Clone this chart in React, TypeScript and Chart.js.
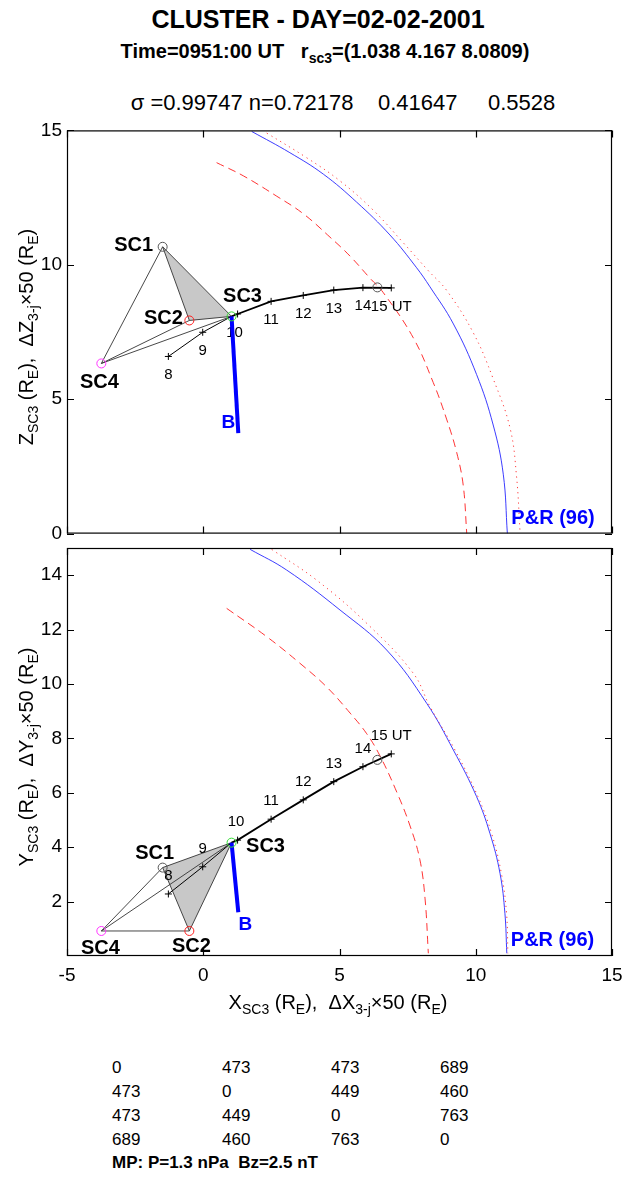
import { useEffect, useRef } from "react";
import type { ReactNode } from "react";
import Chart from "chart.js/auto";

const FONT = '"Liberation Sans", Arial, Helvetica, sans-serif';
Chart.defaults.font.family = FONT;

// spacecraft positions (R_E): SC3 absolute, others SC3 + delta*50
const scNames = ["SC1", "SC2", "SC3", "SC4"];
const scX = [-1.49, -0.51, 1.038, -3.74];
const scY = [3.25, 0.92, 4.167, 0.92];
const scZ = [10.67, 7.93, 8.081, 6.33];
const scColors = ["#555555", "#ff2020", "#33dd33", "#ff33ff"];

// SC3 orbit, hourly marks
const orbitHours = ["8", "9", "10", "11", "12", "13", "14", "15 UT"];
const orbitX = [-1.28, -0.02, 1.26, 2.49, 3.67, 4.79, 5.86, 6.9];
const orbitY = [2.28, 3.28, 4.26, 5.03, 5.74, 6.41, 6.96, 7.43];
const orbitZ = [6.59, 7.49, 8.17, 8.64, 8.86, 9.06, 9.15, 9.14];

// B direction (end of the blue bar)
const bEnd = { x: 1.286, y: 1.61, z: 3.74 };
// model magnetopause crossing on the orbit
const mpCross = { x: 6.39, y: 7.21, z: 9.16 };

// tetrahedron
const edges = [[0, 1], [0, 2], [0, 3], [1, 2], [1, 3], [2, 3]];
const face = [0, 1, 2];

// magnetopause curves, X-Z plane
const mpDashedXZ = [[0.49, 13.8], [1.47, 13.31], [2.7, 12.55], [3.67, 11.9], [4.65, 11.03], [5.39, 10.32], [6.12, 9.5], [6.61, 8.96], [7.71, 7.28], [8.44, 5.62], [8.93, 4.26], [9.3, 3.02], [9.54, 1.8], [9.67, 0]];
const mpSolidXZ = [[1.78, 14.96], [3.18, 14.17], [4.41, 13.37], [5.63, 12.33], [6.85, 11.11], [7.83, 9.89], [8.32, 9.18], [9.18, 7.8], [10.03, 5.92], [10.64, 4.04], [11.01, 2.21], [11.16, 0]];
const mpDottedXZ = [[2.33, 14.9], [3.8, 13.98], [5.02, 13.12], [6.24, 12.03], [7.34, 10.82], [8.26, 9.78], [8.93, 9.05], [9.91, 7.47], [10.64, 5.76], [11.26, 3.92], [11.5, 2.09], [11.62, 0.15]];
// magnetopause curves, X-Y plane
const mpDashedXY = [[0.86, 12.78], [2.33, 11.74], [3.55, 10.76], [4.53, 9.89], [5.39, 8.93], [6.0, 8.17], [6.49, 7.35], [7.1, 6.03], [7.59, 4.78], [7.95, 3.54], [8.14, 2.1], [8.26, 0.1]];
const mpSolidXY = [[1.72, 14.95], [3.06, 14.19], [5.02, 12.72], [6.73, 11.25], [8.2, 9.29], [9.18, 7.57], [10.03, 5.86], [10.52, 4.51], [10.89, 3.04], [11.07, 1.57], [11.14, 0.1]];
const mpDottedXY = [[2.51, 14.95], [4.16, 13.82], [6.0, 12.23], [7.71, 10.39], [8.32, 9.17], [9.24, 7.57], [10.08, 5.86], [10.58, 4.51], [10.94, 3.04], [11.13, 1.57], [11.18, 0.1]];

const xTicks = [-5, 0, 5, 10, 15];
const zTicks = [0, 5, 10, 15];
const yTicks = [2, 4, 6, 8, 10, 12, 14];

// inter-spacecraft distances (km)
const distances = [
  [0, 473, 473, 689],
  [473, 0, 449, 460],
  [473, 449, 0, 763],
  [689, 460, 763, 0],
];

type Pt = { x: number; y: number };
type Panel = {
  scV: number[];
  orbitV: number[];
  bV: number;
  crossV: number;
  dashed: number[][];
  solid: number[][];
  dotted: number[][];
  yMin: number;
  yMax: number;
  yTickVals: number[];
  showX: boolean;
  hourDy: number;
  tenDx: number;
  scOff: number[][];
  bOff: number[];
  prOff: number[];
};

const topPanel: Panel = {
  scV: scZ, orbitV: orbitZ, bV: bEnd.z, crossV: mpCross.z,
  dashed: mpDashedXZ, solid: mpSolidXZ, dotted: mpDottedXZ,
  yMin: 0, yMax: 15, yTickVals: zTicks, showX: false,
  hourDy: 18.5, tenDx: -3,
  scOff: [[-29, -1], [-26, -2], [11, -20], [-2, 19]],
  bOff: [-10, -10],
  prOff: [4, -15],
};

const bottomPanel: Panel = {
  scV: scY, orbitV: orbitY, bV: bEnd.y, crossV: mpCross.y,
  dashed: mpDashedXY, solid: mpSolidXY, dotted: mpDottedXY,
  yMin: 0, yMax: 15, yTickVals: yTicks, showX: true,
  hourDy: -18, tenDx: -1.5,
  scOff: [[-8, -14], [2, 16], [34, 4], [-1, 18]],
  bOff: [7, 13],
  prOff: [4, -13],
};

const toPts = (arr: number[][]): Pt[] => arr.map(([x, y]) => ({ x, y }));

function makePlugin(p: Panel) {
  return {
    id: "matlabPanel",
    beforeDatasetDraw(chart: any, args: any) {
      // hour labels go under the B bar and the spacecraft circles
      if (args.index !== 1) return;
      const { ctx, scales } = chart;
      ctx.save();
      ctx.font = `15px ${FONT}`;
      ctx.fillStyle = "#000";
      ctx.textAlign = "center";
      ctx.textBaseline = "middle";
      orbitHours.forEach((h, i) => {
        const dx = i === 2 ? p.tenDx : 0;
        ctx.fillText(h, scales.x.getPixelForValue(orbitX[i]) + dx, scales.y.getPixelForValue(p.orbitV[i]) + p.hourDy);
      });
      ctx.restore();
    },
    afterDatasetsDraw(chart: any) {
      const { ctx, chartArea: a, scales } = chart;
      const sx = scales.x;
      const sy = scales.y;
      ctx.save();
      // box + inward ticks on all four sides
      ctx.strokeStyle = "#000";
      ctx.lineWidth = 1.2;
      ctx.strokeRect(a.left + 0.5, a.top + 0.5, a.right - a.left - 1, a.bottom - a.top - 1);
      const tl = 7;
      ctx.beginPath();
      xTicks.forEach((v) => {
        const px = Math.round(sx.getPixelForValue(v)) + 0.5;
        ctx.moveTo(px, a.bottom);
        ctx.lineTo(px, a.bottom - tl);
        ctx.moveTo(px, a.top);
        ctx.lineTo(px, a.top + tl);
      });
      p.yTickVals.forEach((v) => {
        const py = Math.round(sy.getPixelForValue(v)) + 0.5;
        ctx.moveTo(a.left, py);
        ctx.lineTo(a.left + tl, py);
        ctx.moveTo(a.right, py);
        ctx.lineTo(a.right - tl, py);
      });
      ctx.stroke();

      // spacecraft names
      ctx.font = `bold 20px ${FONT}`;
      ctx.fillStyle = "#000";
      ctx.textAlign = "center";
      ctx.textBaseline = "middle";
      scNames.forEach((n, i) => {
        ctx.fillText(n, sx.getPixelForValue(scX[i]) + p.scOff[i][0], sy.getPixelForValue(p.scV[i]) + p.scOff[i][1]);
      });
      // B label
      ctx.fillStyle = "#0000ff";
      ctx.font = `bold 19px ${FONT}`;
      ctx.fillText("B", sx.getPixelForValue(bEnd.x) + p.bOff[0], sy.getPixelForValue(p.bV) + p.bOff[1]);
      // model label
      const last = p.solid[p.solid.length - 1];
      ctx.textAlign = "left";
      ctx.font = `bold 20px ${FONT}`;
      ctx.fillText("P&R (96)", sx.getPixelForValue(last[0]) + p.prOff[0], sy.getPixelForValue(last[1]) + p.prOff[1]);
      ctx.restore();
    },
  };
}

function buildConfig(p: Panel, pad: { top: number; bottom: number }): any {
  const scPts = scX.map((x, i) => ({ x, y: p.scV[i] }));
  const orbitPts = orbitX.map((x, i) => ({ x, y: p.orbitV[i] }));
  const sc3 = scPts[2];
  const split = orbitX.findIndex((x) => x > scX[2]);
  const after = [sc3, ...orbitPts.slice(split)];
  const before = [...orbitPts.slice(0, split), sc3];
  const line = { showLine: true, pointRadius: 0, fill: false };
  const curve = { ...line, tension: 0.4, borderWidth: 1 };

  const datasets: any[] = [
    {
      label: "spacecraft", data: scPts, showLine: false, pointStyle: "circle", pointRadius: 4.5,
      pointBorderColor: scColors, pointBackgroundColor: "rgba(0,0,0,0)", pointBorderWidth: 1,
    },
    { label: "B", data: [sc3, { x: bEnd.x, y: p.bV }], ...line, borderColor: "#0000ff", borderWidth: 4 },
    {
      label: "MP crossing", data: [{ x: mpCross.x, y: p.crossV }], showLine: false, pointRadius: 4.5,
      pointBorderColor: "#555555", pointBackgroundColor: "rgba(0,0,0,0)", pointBorderWidth: 1,
    },
    {
      label: "orbit after", data: after, showLine: true, borderColor: "#000", borderWidth: 1.8,
      pointStyle: "cross", pointRadius: after.map((_, i) => (i === 0 ? 0 : 3.5)), pointBorderColor: "#000", pointBorderWidth: 1,
    },
    {
      label: "orbit before", data: before, showLine: true, borderColor: "#000", borderWidth: 1,
      pointStyle: "cross", pointRadius: before.map((_, i) => (i === before.length - 1 ? 0 : 3.5)), pointBorderColor: "#000", pointBorderWidth: 1,
    },
    ...edges.map(([a, b]) => ({ label: "edge", data: [scPts[a], scPts[b]], ...line, borderColor: "#333333", borderWidth: 0.9 })),
    { label: "face", data: face.map((i) => scPts[i]), ...line, fill: "shape", backgroundColor: "#c8c8c8", borderWidth: 0 },
    { label: "mp dotted", data: toPts(p.dotted), ...curve, borderColor: "rgba(255,40,40,0.9)", borderDash: [1.2, 4] },
    { label: "P&R 96", data: toPts(p.solid), ...curve, borderColor: "rgba(40,40,255,0.9)" },
    { label: "mp dashed", data: toPts(p.dashed), ...curve, borderColor: "rgba(255,30,30,0.9)", borderDash: [8, 5] },
  ];

  return {
    type: "scatter",
    data: { datasets },
    options: {
      animation: false,
      responsive: false,
      maintainAspectRatio: false,
      layout: { padding: { left: 0, right: 23, top: pad.top, bottom: pad.bottom } },
      plugins: { legend: { display: false }, tooltip: { enabled: false } },
      elements: { line: { borderCapStyle: "butt" } },
      scales: {
        x: {
          type: "linear", min: -5, max: 15, display: p.showX,
          grid: { display: false, drawTicks: false },
          border: { display: false },
          ticks: { color: "#000", font: { size: 19 }, padding: 8, maxRotation: 0 },
          afterBuildTicks: (ax: any) => { ax.ticks = xTicks.map((v) => ({ value: v })); },
          afterFit: (ax: any) => { ax.height = p.showX ? 50 : 0; },
        },
        y: {
          type: "linear", min: p.yMin, max: p.yMax,
          grid: { display: false, drawTicks: false },
          border: { display: false },
          ticks: { color: "#000", font: { size: 19 }, padding: 5 },
          afterBuildTicks: (ax: any) => { ax.ticks = p.yTickVals.map((v) => ({ value: v })); },
          afterFit: (ax: any) => { ax.width = 67; },
        },
      },
    },
    plugins: [makePlugin(p)],
  };
}

function PanelChart({ panel, top, height, pad }: { panel: Panel; top: number; height: number; pad: { top: number; bottom: number } }) {
  const ref = useRef<HTMLCanvasElement>(null);
  useEffect(() => {
    if (!ref.current) return;
    const chart = new Chart(ref.current, buildConfig(panel, pad));
    return () => chart.destroy();
  }, []);
  return (
    <canvas
      ref={ref}
      width={635}
      height={height}
      style={{ position: "absolute", left: 0, top, width: 635, height }}
    />
  );
}

const Txt = ({ x, y, children, style }: { x: number; y: number; children: ReactNode; style?: any }) => (
  <div style={{ position: "absolute", left: x, top: y, transform: "translate(-50%,-50%)", whiteSpace: "pre", lineHeight: 1, ...style }}>
    {children}
  </div>
);

const sub = (t: string) => <sub style={{ fontSize: "0.7em", verticalAlign: "-0.35em" }}>{t}</sub>;

const colX = [112, 222, 331, 440];
const rowY = [1067, 1091, 1115, 1139];

export default function App() {
  return (
    <div style={{ position: "absolute", left: 0, top: 0, width: 635, height: 1184, overflow: "hidden", background: "#fff", fontFamily: FONT, color: "#000" }}>
      <Txt x={318} y={19} style={{ fontSize: 25, fontWeight: "bold" }}>CLUSTER - DAY=02-02-2001</Txt>
      <Txt x={325} y={53} style={{ fontSize: 20, fontWeight: "bold" }}>
        <span>Time=0951:00 UT   r{sub("sc3")}=(1.038 4.167 8.0809)</span>
      </Txt>
      <Txt x={343} y={103} style={{ fontSize: 22 }}>σ =0.99747 n=0.72178    0.41647     0.5528</Txt>

      <PanelChart panel={topPanel} top={114} height={436} pad={{ top: 14, bottom: 13 }} />
      <PanelChart panel={bottomPanel} top={530} height={476} pad={{ top: 18, bottom: 0 }} />

      <Txt x={28} y={337} style={{ fontSize: 20, transform: "translate(-50%,-50%) rotate(-90deg)" }}>
        <span>Z{sub("SC3")} (R{sub("E")}),  ΔZ{sub("3-j")}×50 (R{sub("E")})</span>
      </Txt>
      <Txt x={28} y={757} style={{ fontSize: 20, transform: "translate(-50%,-50%) rotate(-90deg)" }}>
        <span>Y{sub("SC3")} (R{sub("E")}),  ΔY{sub("3-j")}×50 (R{sub("E")})</span>
      </Txt>
      <Txt x={338} y={1004} style={{ fontSize: 20 }}>
        <span>X{sub("SC3")} (R{sub("E")}),  ΔX{sub("3-j")}×50 (R{sub("E")})</span>
      </Txt>

      {distances.map((row, r) =>
        row.map((v, c) => (
          <div key={`${r}-${c}`} style={{ position: "absolute", left: colX[c], top: rowY[r], transform: "translateY(-50%)", fontSize: 17, lineHeight: 1 }}>
            {v}
          </div>
        ))
      )}
      <div style={{ position: "absolute", left: 112, top: 1162, transform: "translateY(-50%)", fontSize: 17, fontWeight: "bold", lineHeight: 1, whiteSpace: "pre" }}>
        MP: P=1.3 nPa  Bz=2.5 nT
      </div>
    </div>
  );
}
